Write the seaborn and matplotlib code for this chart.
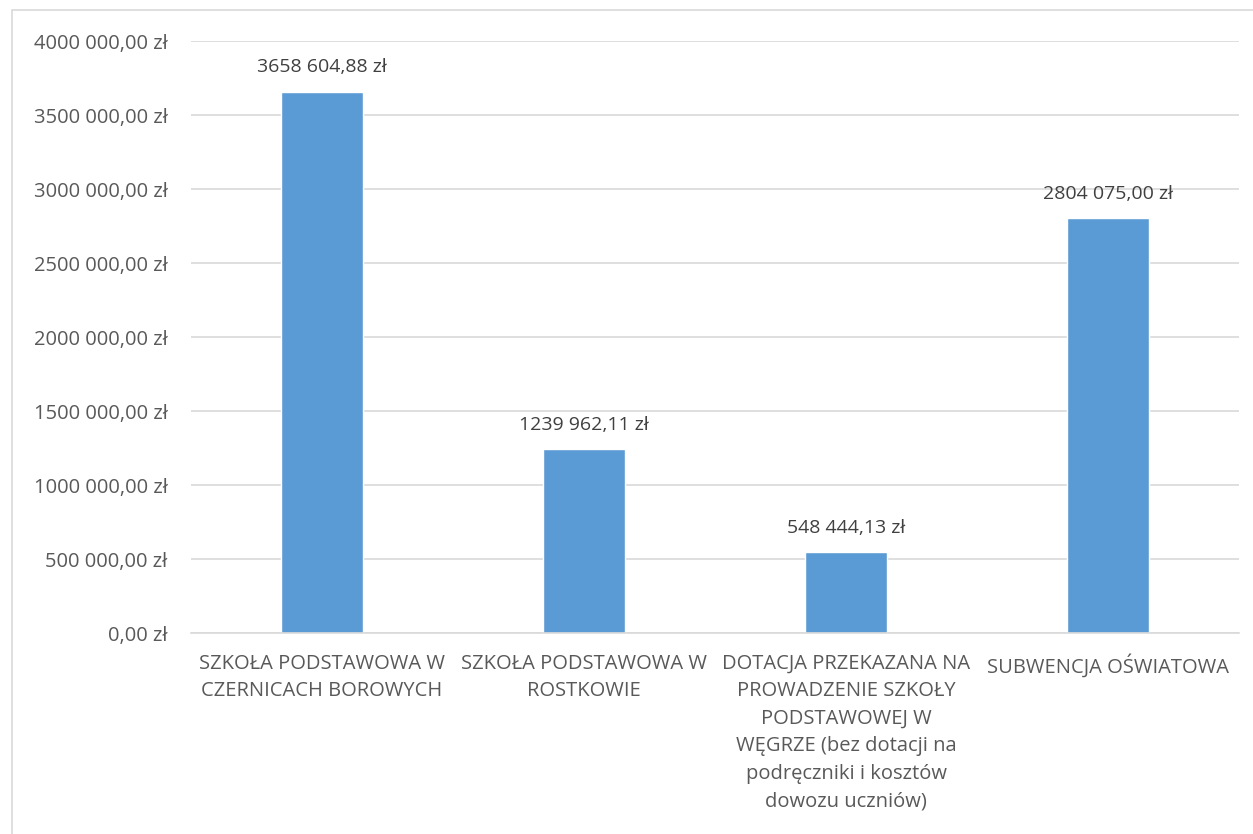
import matplotlib
matplotlib.use("Agg")
import matplotlib.pyplot as plt
import seaborn as sns
import pandas as pd
from matplotlib.ticker import FuncFormatter, MultipleLocator
from matplotlib.patches import Rectangle

categories = [
    "SZKOŁA PODSTAWOWA W\nCZERNICACH BOROWYCH",
    "SZKOŁA PODSTAWOWA W\nROSTKOWIE",
    "DOTACJA PRZEKAZANA NA\nPROWADZENIE SZKOŁY\nPODSTAWOWEJ W\nWĘGRZE (bez dotacji na\npodręczniki i kosztów\ndowozu uczniów)",
    "SUBWENCJA OŚWIATOWA",
]
values = [3658604.88, 1239962.11, 548444.13, 2804075.00]


def fmt_pln(v, pos=None):
    s = f"{v:.2f}"
    ip, dp = s.split(".")
    if len(ip) > 3:
        ip = ip[:-3] + " " + ip[-3:]
    return f"{ip},{dp} zł"


sns.set_theme(style="white")
plt.rcParams["font.family"] = ["Open Sans", "DejaVu Sans"]

df = pd.DataFrame({"cat": categories, "val": values})

fig = plt.figure(figsize=(12.53, 8.34), dpi=100)
ax = fig.add_axes([191 / 1253, 1 - 633 / 834, (1239 - 191) / 1253, (633 - 41) / 834])

sns.barplot(data=df, x="cat", y="val", color="#5B9BD5", saturation=1, width=0.31, ax=ax)

ax.set_ylim(0, 4000000)
ax.yaxis.set_major_locator(MultipleLocator(500000))
ax.yaxis.set_major_formatter(FuncFormatter(fmt_pln))
ax.set_xlim(-0.5, 3.5)
ax.grid(axis="y", color="#D9D9D9", linewidth=1.2)
ax.set_axisbelow(True)
for s in ["left", "right", "top"]:
    ax.spines[s].set_visible(False)
ax.spines["bottom"].set_color("#D9D9D9")
ax.spines["bottom"].set_linewidth(1.2)
ax.set_xlabel("")
ax.set_ylabel("")
ax.tick_params(axis="both", length=0, colors="#595959", labelsize=14.5)
ax.tick_params(axis="y", pad=17)
ax.tick_params(axis="x", pad=15)
for lab in ax.get_xticklabels():
    lab.set_linespacing(1.5)
    lab.set_ha("center")

for c in ax.containers:
    ax.bar_label(c, labels=[fmt_pln(v) for v in values], padding=11,
                 color="#404040", fontsize=14)

fig.patches.append(Rectangle((12 / 1253, -0.01), 1.2, 1 - 10 / 834 + 0.01,
                             transform=fig.transFigure, fill=False,
                             edgecolor="#D9D9D9", linewidth=1.2))

fig.savefig("out.png", dpi=100)
